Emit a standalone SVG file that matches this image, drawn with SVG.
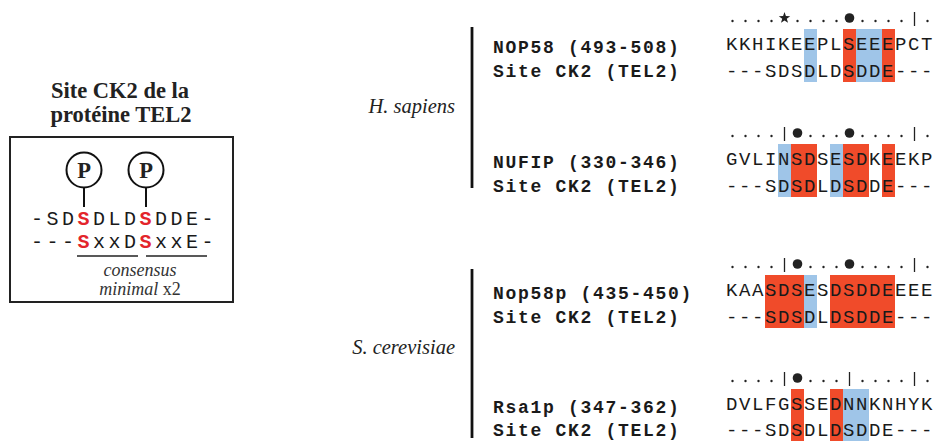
<svg xmlns="http://www.w3.org/2000/svg" width="938" height="441" viewBox="0 0 938 441">
<style>
.seq{font-family:"Liberation Mono","Courier New",monospace;font-size:19px;letter-spacing:1.6px;fill:#1a1a1a}
.lab{font-family:"Liberation Mono","Courier New",monospace;font-size:18px;font-weight:bold;letter-spacing:1.7px;fill:#1a1a1a}
.sp{font-family:"Liberation Serif","Times New Roman",serif;font-style:italic;font-size:20.5px;fill:#222}
.ttl{font-family:"Liberation Serif","Times New Roman",serif;font-weight:bold;font-size:22.5px;fill:#222;text-anchor:middle}
.bx{font-family:"Liberation Mono","Courier New",monospace;font-size:20px;letter-spacing:3.5px;fill:#1a1a1a}
.rs{fill:#e3242b;font-weight:bold}
.cons{font-family:"Liberation Serif","Times New Roman",serif;font-size:18px;fill:#333;text-anchor:middle}
.red{fill:#f04b2a}
.blue{fill:#9fc5e8}
.dot{fill:#222}
.tick{stroke:#222;stroke-width:1.3}
.bar{stroke:#111;stroke-width:2.8}
.ln{stroke:#222;stroke-width:1.3}
</style>
<defs>
<circle id="d" r="1.2" class="dot"/>
<circle id="b" r="4.8" class="dot"/>
<line id="t" x1="0" y1="-17" x2="0" y2="-3" class="tick"/>
</defs>

<g id="tel2-site">
<text class="ttl" x="120" y="98">Site CK2 de la</text>
<text class="ttl" x="121" y="122">protéine TEL2</text>
<rect x="10" y="137" width="223" height="165" fill="none" stroke="#222" stroke-width="2"/>
<circle cx="84" cy="170" r="17.5" fill="#fff" stroke="#111" stroke-width="2"/>
<circle cx="146" cy="170" r="17.5" fill="#fff" stroke="#111" stroke-width="2"/>
<text class="ttl" x="84" y="178" font-size="22">P</text>
<text class="ttl" x="146" y="178" font-size="22">P</text>
<line x1="84" y1="187.5" x2="84" y2="207" stroke="#111" stroke-width="2"/>
<line x1="146" y1="187.5" x2="146" y2="207" stroke="#111" stroke-width="2"/>
<text class="bx" x="31" y="225">-SD<tspan class="rs">S</tspan>DLD<tspan class="rs">S</tspan>DDE-</text>
<text class="bx" x="31" y="248">---<tspan class="rs">S</tspan>xxD<tspan class="rs">S</tspan>xxE-</text>
<line x1="77" y1="256" x2="138" y2="256" class="ln"/>
<line x1="146" y1="256" x2="207" y2="256" class="ln"/>
<text class="cons" x="140" y="276" font-style="italic">consensus</text>
<text class="cons" x="140" y="295"><tspan font-style="italic">minimal</tspan> x2</text>
</g>

<g id="species">
<text class="sp" x="455" y="113" text-anchor="end">H. sapiens</text>
<text class="sp" x="455" y="354" text-anchor="end">S. cerevisiae</text>
<line x1="472" y1="27" x2="472" y2="188" class="bar"/>
<line x1="472" y1="269" x2="472" y2="438" class="bar"/>
</g>

<g id="row-nop58">
<rect class="blue" x="804" y="29" width="13" height="53"/>
<rect class="red" x="843" y="29" width="13" height="53"/>
<rect class="blue" x="856" y="29" width="26" height="53"/>
<rect class="red" x="882" y="29" width="13" height="53"/>
<g transform="translate(0,50)">
<use href="#d" x="732.5" y="-29"/><use href="#d" x="745.5" y="-29"/><use href="#d" x="758.5" y="-29"/><use href="#d" x="771.5" y="-29"/>
<polygon transform="translate(784.5,-32)" class="dot" points="0,-6 1.41,-1.94 5.71,-1.85 2.28,0.74 3.53,4.85 0,2.4 -3.53,4.85 -2.28,0.74 -5.71,-1.85 -1.41,-1.94"/>
<use href="#d" x="797.5" y="-29"/><use href="#d" x="810.5" y="-29"/><use href="#d" x="823.5" y="-29"/><use href="#d" x="836.5" y="-29"/>
<use href="#b" x="849.5" y="-32"/>
<use href="#d" x="862.5" y="-29"/><use href="#d" x="875.5" y="-29"/><use href="#d" x="888.5" y="-29"/><use href="#d" x="901.5" y="-29"/>
<use href="#t" x="914.5" y="-21"/>
<use href="#d" x="927.5" y="-29"/>
</g>
<text class="lab" x="493" y="53">NOP58 (493-508)</text>
<text class="lab" x="493" y="77">Site CK2 (TEL2)</text>
<text class="seq" x="726" y="50">KKHIKEEPLSEEEPCT</text>
<text class="seq" x="726" y="77">---SDSDLDSDDE---</text>
</g>

<g id="row-nufip">
<rect class="blue" x="778" y="144" width="13" height="53"/>
<rect class="red" x="791" y="144" width="26" height="53"/>
<rect class="blue" x="830" y="144" width="13" height="53"/>
<rect class="red" x="843" y="144" width="26" height="53"/>
<rect class="red" x="882" y="144" width="13" height="53"/>
<g transform="translate(0,165)">
<use href="#d" x="732.5" y="-29"/><use href="#d" x="745.5" y="-29"/><use href="#d" x="758.5" y="-29"/><use href="#d" x="771.5" y="-29"/>
<use href="#t" x="784.5" y="-21"/>
<use href="#b" x="797.5" y="-32"/>
<use href="#d" x="810.5" y="-29"/><use href="#d" x="823.5" y="-29"/><use href="#d" x="836.5" y="-29"/>
<use href="#b" x="849.5" y="-32"/>
<use href="#d" x="862.5" y="-29"/><use href="#d" x="875.5" y="-29"/><use href="#d" x="888.5" y="-29"/><use href="#d" x="901.5" y="-29"/>
<use href="#t" x="914.5" y="-21"/>
<use href="#d" x="927.5" y="-29"/>
</g>
<text class="lab" x="493" y="168">NUFIP (330-346)</text>
<text class="lab" x="493" y="192">Site CK2 (TEL2)</text>
<text class="seq" x="726" y="165">GVLINSDSESDKEEKP</text>
<text class="seq" x="726" y="192">---SDSDLDSDDE---</text>
</g>

<g id="row-nop58p">
<rect class="red" x="765" y="275" width="39" height="53"/>
<rect class="blue" x="804" y="275" width="13" height="53"/>
<rect class="red" x="830" y="275" width="65" height="53"/>
<g transform="translate(0,296)">
<use href="#d" x="732.5" y="-29"/><use href="#d" x="745.5" y="-29"/><use href="#d" x="758.5" y="-29"/><use href="#d" x="771.5" y="-29"/>
<use href="#t" x="784.5" y="-21"/>
<use href="#b" x="797.5" y="-32"/>
<use href="#d" x="810.5" y="-29"/><use href="#d" x="823.5" y="-29"/><use href="#d" x="836.5" y="-29"/>
<use href="#b" x="849.5" y="-32"/>
<use href="#d" x="862.5" y="-29"/><use href="#d" x="875.5" y="-29"/><use href="#d" x="888.5" y="-29"/><use href="#d" x="901.5" y="-29"/>
<use href="#t" x="914.5" y="-21"/>
<use href="#d" x="927.5" y="-29"/>
</g>
<text class="lab" x="493" y="299">Nop58p (435-450)</text>
<text class="lab" x="493" y="323">Site CK2 (TEL2)</text>
<text class="seq" x="726" y="296">KAASDSESDSDDEEEE</text>
<text class="seq" x="726" y="323">---SDSDLDSDDE---</text>
</g>

<g id="row-rsa1p">
<rect class="red" x="791" y="389" width="13" height="52"/>
<rect class="red" x="830" y="389" width="13" height="52"/>
<rect class="blue" x="843" y="389" width="26" height="52"/>
<g transform="translate(0,410)">
<use href="#d" x="732.5" y="-29"/><use href="#d" x="745.5" y="-29"/><use href="#d" x="758.5" y="-29"/><use href="#d" x="771.5" y="-29"/>
<use href="#t" x="784.5" y="-21"/>
<use href="#b" x="797.5" y="-32"/>
<use href="#d" x="810.5" y="-29"/><use href="#d" x="823.5" y="-29"/><use href="#d" x="836.5" y="-29"/>
<use href="#t" x="849.5" y="-21"/>
<use href="#d" x="862.5" y="-29"/><use href="#d" x="875.5" y="-29"/><use href="#d" x="888.5" y="-29"/><use href="#d" x="901.5" y="-29"/>
<use href="#t" x="914.5" y="-21"/>
<use href="#d" x="927.5" y="-29"/>
</g>
<text class="lab" x="493" y="413">Rsa1p (347-362)</text>
<text class="lab" x="493" y="436">Site CK2 (TEL2)</text>
<text class="seq" x="726" y="410">DVLFGSSEDNNKNHYK</text>
<text class="seq" x="726" y="436">---SDSDLDSDDE---</text>
</g>
</svg>
